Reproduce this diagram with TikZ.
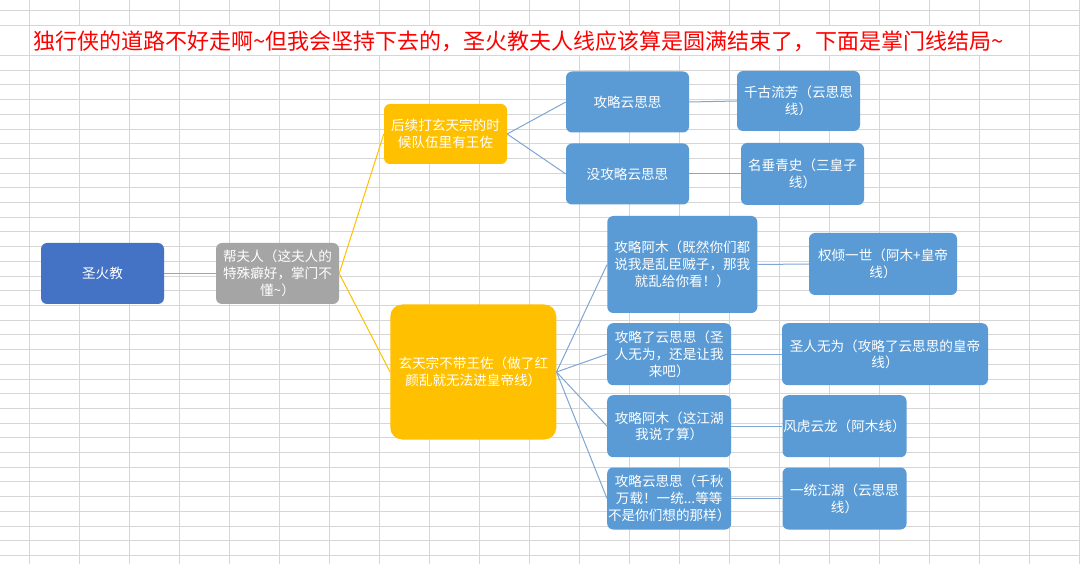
\documentclass[tikz,border=0pt]{standalone}
\usepackage{fontspec}
\setmainfont{Noto Sans CJK SC}
\usetikzlibrary{positioning}
\definecolor{titlered}{HTML}{FF0000}
\definecolor{rootblue}{HTML}{4472C4}
\definecolor{leafblue}{HTML}{5B9BD5}
\definecolor{midgray}{HTML}{A5A5A5}
\definecolor{gold}{HTML}{FFC000}
\definecolor{linkblue}{HTML}{7FA6D4}
\definecolor{gridgray}{HTML}{D6D6D6}
\tikzset {
    x=1pt, y=-1pt,
    mapbox/.style={rounded corners=6pt, inner sep=0pt, text=white, align=center,
        minimum width=123pt, minimum height=61pt,
        font=\fontsize{13.6}{16.7}\selectfont},
    rootbox/.style={mapbox, fill=rootblue},
    wifebox/.style={mapbox, fill=midgray},
    branchbox/.style={mapbox, fill=gold},
    endbox/.style={mapbox, fill=leafblue},
    link/.style={line width=1pt, draw=linkblue},
    gridline/.style={draw=gridgray, line width=0.8pt}
}

\begin{document}
\begin{tikzpicture}
    \useasboundingbox (0,0) rectangle (1080,564);
    \clip (0,0) rectangle (1080,564);

    \fill[white] (0,0) rectangle (1080,564);
    \foreach \gx in {0,...,21}
        \draw[gridline] (29.3+50*\gx,0) -- (29.3+50*\gx,564);
    \foreach \gy in {0,...,34}
        \draw[gridline] (0,55.5+14.7*\gy) -- (1080,55.5+14.7*\gy);
    \draw[gridline] (0,10) -- (1080,10) (0,25) -- (1080,25);
    \fill[white] (30,25.6) rectangle (1028.6,54.9);

    \node[anchor=west, inner sep=0pt, text=titlered, font=\fontsize{22}{26}\selectfont] (title) at (33,41)
        {独行侠的道路不好走啊\textasciitilde 但我会坚持下去的，圣火教夫人线应该算是圆满结束了，下面是掌门线结局\textasciitilde};

    \node[rootbox] (shj) at (102.5,273.5) {圣火教};
    \node[wifebox] (bfr) at (277.5,273.5) {帮夫人（这夫人的\\特殊癖好，掌门不\\懂\textasciitilde）};

    \node[branchbox, minimum height=60pt] (hx) at (445.5,134) {后续打玄天宗的时\\候队伍里有王佐};
    \node[branchbox, rounded corners=12pt, minimum width=166pt, minimum height=135pt] (xtz) at (473.3,372)
        {玄天宗不带王佐（做了红\\颜乱就无法进皇帝线）};

    \node[endbox] (gyss) at (627.5,102) {攻略云思思};
    \node[endbox] (mgyss) at (627.5,174) {没攻略云思思};
    \node[endbox, minimum height=60pt] (qglf) at (798.5,101) {千古流芳（云思思\\线）};
    \node[endbox, minimum height=62pt] (mcqs) at (802.5,174) {名垂青史（三皇子\\线）};

    \node[endbox, minimum width=150pt, minimum height=97pt] (gam1) at (682.3,264.5)
        {攻略阿木（既然你们都\\说我是乱臣贼子，那我\\就乱给你看！）};
    \node[endbox, minimum width=148pt, minimum height=62pt] (qqys) at (883,264) {权倾一世（阿木+皇帝\\线）};

    \node[endbox, minimum width=124pt, minimum height=62pt] (gyss2) at (669.2,354.2) {攻略了云思思（圣\\人无为，还是让我\\来吧）};
    \node[endbox, minimum width=206pt, minimum height=62pt] (srww) at (885,354.2) {圣人无为（攻略了云思思的皇帝\\线）};

    \node[endbox, minimum width=124pt, minimum height=62pt] (gam2) at (669.2,426.2) {攻略阿木（这江湖\\我说了算）};
    \node[endbox, minimum width=124pt, minimum height=62pt] (fhyl) at (844.5,426.2) {风虎云龙（阿木线）};

    \node[endbox, minimum width=124pt, minimum height=62pt] (gyss3) at (669.2,498.5) {攻略云思思（千秋\\万载！一统...等等\\不是你们想的那样）};
    \node[endbox, minimum width=124pt, minimum height=62pt] (ytjh) at (844.5,498.5) {一统江湖（云思思\\线）};

    \draw[line width=1pt, midgray] (shj.east) -- (bfr.west);
    \draw[line width=1pt, gold]
    (bfr.east) edge (hx.west)
    (bfr.east) edge (xtz.west);
    \draw[link]
    (hx.east) edge (gyss.west)
    (hx.east) edge (mgyss.west)
    (gyss.east) edge (qglf.west)
    (mgyss.east) edge (mcqs.west)
    (xtz.east) edge (gam1.west)
    (xtz.east) edge (gyss2.west)
    (xtz.east) edge (gam2.west)
    (xtz.east) edge (gyss3.west)
    (gam1.east) edge (qqys.west)
    (gyss2.east) edge (srww.west)
    (gam2.east) edge (fhyl.west)
    (gyss3.east) edge (ytjh.west);
\end{tikzpicture}
\end{document}
